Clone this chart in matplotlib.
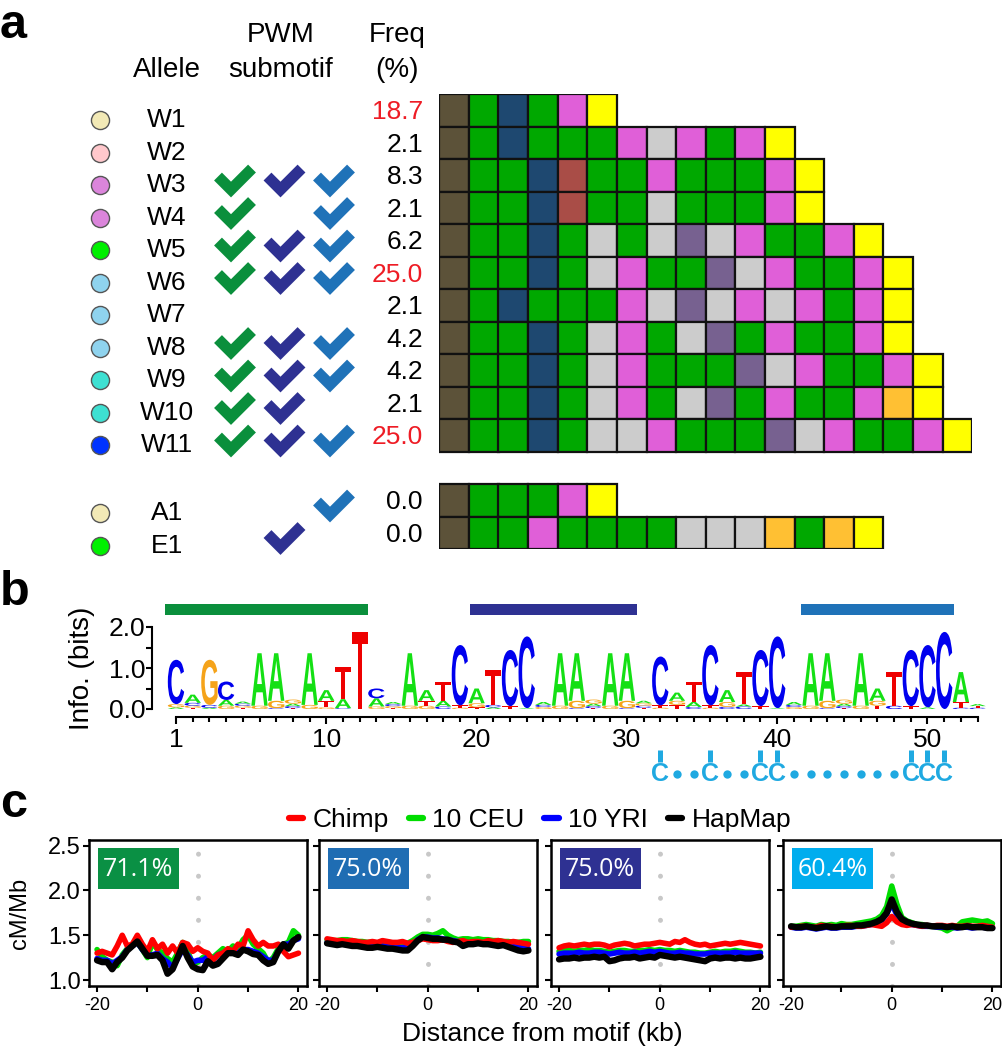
import numpy as np
import matplotlib
matplotlib.use('Agg')
import matplotlib.pyplot as plt
from matplotlib.patches import Rectangle, PathPatch
from matplotlib.textpath import TextPath
from matplotlib.font_manager import FontProperties
from matplotlib.transforms import Affine2D
from matplotlib.lines import Line2D

plt.rcParams['font.family'] = ['Liberation Sans', 'DejaVu Sans']

# ---------------- data ----------------
alleles = ['W1', 'W2', 'W3', 'W4', 'W5', 'W6', 'W7', 'W8', 'W9', 'W10', 'W11', 'A1', 'E1']
allele_rows = [0, 1, 2, 3, 4, 5, 6, 7, 8, 9, 10, 12, 13]
allele_cols = ['#f2e9b6', '#ffc8cc', '#db85db', '#db85db', '#00f000', '#8fd3ee', '#8fd3ee',
               '#8fd3ee', '#3ee0d2', '#3ee0d2', '#0033ff', '#f2e9b6', '#00f000']
freqs = ['18.7', '2.1', '8.3', '2.1', '6.2', '25.0', '2.1', '4.2', '4.2', '2.1', '25.0', '0.0', '0.0']
freq_red = ['18.7', '25.0']
# submotif presence (green, navy, blue)
sub_green = [0, 0, 1, 1, 1, 1, 0, 1, 1, 1, 1, 0, 0]
sub_navy = [0, 0, 1, 0, 1, 1, 0, 1, 1, 1, 1, 0, 1]
sub_blue = [0, 0, 1, 1, 1, 1, 0, 1, 1, 0, 1, 1, 0]
sub_colors = ['#0a8f3c', '#2e3192', '#1f72b8']

repeats = ['BGNGPY', 'BGNGGGPLPGPY', 'BGGNRGGPGGGPY', 'BGGNRGGLGGGPY', 'BGGNGLGLVLPGGPY',
           'BGGNGLPGGVLPGGPY', 'BGNGGGPLVLPLPGPY', 'BGGNGLPGLVGPGGPY', 'BGGNGLPGGGVLPGGPY',
           'BGGNGLPGLVGPGGPOY', 'BGGNGLLPGGGVLPGGPY', 'BGGGPY', 'BGGPGGGGLLLOGOY']
cell_colors = {'B': '#5c5239', 'G': '#00a800', 'N': '#1e4870', 'P': '#e05fd8', 'Y': '#ffff00',
               'L': '#cccccc', 'V': '#776190', 'R': '#a94d47', 'O': '#ffc033'}

# sequence logo: letters from bottom to top with heights (bits)
logo_stacks = [
    [('A', .04), ('G', .08), ('C', 1.08)], [('T', .03), ('G', .05), ('C', .07), ('A', .2)],
    [('A', .03), ('C', .07), ('G', 1.1)], [('G', .08), ('A', .14), ('C', .45)],
    [('T', .03), ('G', .05), ('C', .05), ('A', .05)], [('G', .08), ('A', 1.28)],
    [('C', .02), ('G', .18), ('A', 1.16)], [('T', .02), ('C', .05), ('A', .06), ('G', .1)],
    [('G', .1), ('A', 1.26)], [('G', .04), ('T', .16), ('A', .26)],
    [('C', .02), ('A', .22), ('T', .79)], [('T', 1.88)],
    [('G', .06), ('A', .2), ('C', .24)], [('T', .02), ('G', .05), ('C', .05), ('A', .05)],
    [('G', .08), ('A', 1.28)], [('G', .08), ('T', .12), ('A', .26)],
    [('C', .06), ('A', .14), ('T', .47)], [('G', .03), ('T', .06), ('C', 1.47)],
    [('T', .04), ('G', .1), ('A', .36)], [('A', .04), ('C', .06), ('T', .85)],
    [('T', .07), ('C', 1.37)], [('A', .02), ('C', 1.75)],
    [('G', .05), ('C', .05), ('A', .07)], [('G', .08), ('A', 1.28)],
    [('C', .02), ('G', .18), ('A', 1.16)], [('T', .02), ('C', .05), ('A', .06), ('G', .1)],
    [('G', .08), ('A', 1.28)], [('C', .02), ('G', .18), ('A', 1.16)],
    [('T', .03), ('C', .05), ('G', .06), ('A', .06)], [('G', .03), ('T', .06), ('C', 1.19)],
    [('T', .1), ('G', .1), ('A', .2)], [('C', .05), ('A', .12), ('T', .5)],
    [('G', .03), ('T', .06), ('C', 1.47)], [('C', .05), ('G', .12), ('A', .29)],
    [('C', .06), ('A', .05), ('T', .8)], [('T', .07), ('C', 1.37)],
    [('A', .02), ('C', 1.75)], [('G', .05), ('C', .05), ('A', .07)],
    [('G', .08), ('A', 1.28)], [('C', .02), ('G', .18), ('A', 1.16)],
    [('T', .02), ('C', .05), ('A', .06), ('G', .1)], [('G', .08), ('A', 1.28)],
    [('T', .08), ('G', .12), ('A', .3)], [('C', .08), ('T', .83)],
    [('T', .07), ('C', 1.37)], [('A', .04), ('C', 1.52)],
    [('C', 1.88)], [('C', .03), ('T', .14), ('A', .73)],
    [('C', .03), ('T', .04), ('A', .05)],
]
letter_colors = {'A': '#14e014', 'C': '#0000ee', 'G': '#f5a31a', 'T': '#ee0000'}
logo_tick_pos = [1, 10, 19, 28, 37, 46]
logo_tick_lab = ['1', '10', '20', '30', '40', '50']
submotif_spans = [(0.35, 12.5), (18.6, 28.6), (38.4, 47.6)]
c_positions = [30, 33, 36, 37, 45, 46, 47]
dot_positions = [31, 32, 34, 35, 38, 39, 40, 41, 42, 43, 44]

# recombination rate profiles (cM/Mb), one value per kb from -20 to 20
kb = np.arange(-20, 21)
chimp = [
    [1.30, 1.32, 1.30, 1.28, 1.38, 1.50, 1.38, 1.40, 1.50, 1.40, 1.32, 1.45, 1.35, 1.40, 1.30, 1.38, 1.30, 1.42, 1.40, 1.32, 1.36,
     1.32, 1.30, 1.22, 1.28, 1.30, 1.35, 1.32, 1.40, 1.38, 1.55, 1.45, 1.38, 1.42, 1.38, 1.38, 1.40, 1.32, 1.26, 1.28, 1.30],
    [1.46, 1.45, 1.44, 1.44, 1.43, 1.44, 1.43, 1.42, 1.42, 1.43, 1.42, 1.44, 1.43, 1.42, 1.42, 1.43, 1.41, 1.42, 1.44, 1.46, 1.45,
     1.44, 1.44, 1.45, 1.43, 1.42, 1.43, 1.44, 1.42, 1.43, 1.43, 1.42, 1.44, 1.43, 1.44, 1.43, 1.42, 1.43, 1.42, 1.41, 1.40],
    [1.36, 1.38, 1.39, 1.38, 1.39, 1.40, 1.39, 1.40, 1.40, 1.39, 1.37, 1.39, 1.40, 1.41, 1.40, 1.38, 1.39, 1.40, 1.40, 1.41, 1.42,
     1.41, 1.40, 1.43, 1.42, 1.45, 1.42, 1.40, 1.39, 1.40, 1.38, 1.39, 1.40, 1.41, 1.40, 1.41, 1.42, 1.41, 1.40, 1.39, 1.38],
    [1.59, 1.59, 1.60, 1.60, 1.59, 1.59, 1.61, 1.60, 1.60, 1.59, 1.60, 1.61, 1.61, 1.60, 1.60, 1.61, 1.62, 1.61, 1.60, 1.64, 1.71,
     1.65, 1.62, 1.61, 1.62, 1.61, 1.60, 1.61, 1.60, 1.61, 1.61, 1.60, 1.61, 1.60, 1.60, 1.61, 1.60, 1.60, 1.61, 1.60, 1.59],
]
ceu = [
    [1.34, 1.26, 1.22, 1.20, 1.16, 1.28, 1.35, 1.40, 1.42, 1.34, 1.25, 1.42, 1.34, 1.30, 1.24, 1.20, 1.30, 1.42, 1.32, 1.18, 1.20,
     1.25, 1.28, 1.25, 1.30, 1.35, 1.32, 1.38, 1.35, 1.45, 1.50, 1.40, 1.35, 1.30, 1.20, 1.25, 1.35, 1.40, 1.42, 1.55, 1.50],
    [1.45, 1.44, 1.44, 1.45, 1.45, 1.44, 1.43, 1.43, 1.42, 1.42, 1.41, 1.42, 1.40, 1.40, 1.39, 1.40, 1.41, 1.44, 1.48, 1.51, 1.51,
     1.50, 1.52, 1.55, 1.50, 1.47, 1.45, 1.46, 1.46, 1.45, 1.46, 1.45, 1.45, 1.44, 1.44, 1.43, 1.43, 1.42, 1.42, 1.43, 1.43],
    [1.32, 1.33, 1.33, 1.32, 1.33, 1.33, 1.34, 1.33, 1.33, 1.32, 1.31, 1.32, 1.33, 1.33, 1.32, 1.32, 1.33, 1.33, 1.34, 1.33, 1.34,
     1.33, 1.33, 1.32, 1.33, 1.32, 1.31, 1.31, 1.30, 1.30, 1.31, 1.32, 1.31, 1.32, 1.32, 1.33, 1.32, 1.31, 1.31, 1.30, 1.31],
    [1.60, 1.60, 1.61, 1.62, 1.61, 1.60, 1.62, 1.61, 1.62, 1.61, 1.63, 1.62, 1.62, 1.63, 1.64, 1.65, 1.66, 1.68, 1.72, 1.82, 2.05,
     1.85, 1.70, 1.66, 1.64, 1.62, 1.62, 1.60, 1.60, 1.59, 1.58, 1.55, 1.58, 1.60, 1.65, 1.66, 1.67, 1.66, 1.65, 1.66, 1.63],
]
yri = [
    [1.24, 1.22, 1.22, 1.18, 1.22, 1.26, 1.34, 1.38, 1.42, 1.34, 1.28, 1.28, 1.30, 1.24, 1.20, 1.14, 1.24, 1.34, 1.28, 1.20, 1.22,
     1.22, 1.26, 1.22, 1.28, 1.30, 1.32, 1.32, 1.30, 1.34, 1.34, 1.32, 1.30, 1.26, 1.22, 1.22, 1.32, 1.40, 1.40, 1.44, 1.46],
    [1.42, 1.41, 1.40, 1.41, 1.39, 1.40, 1.39, 1.38, 1.38, 1.38, 1.39, 1.38, 1.37, 1.37, 1.36, 1.36, 1.37, 1.40, 1.45, 1.48, 1.48,
     1.47, 1.47, 1.46, 1.45, 1.44, 1.43, 1.41, 1.41, 1.42, 1.42, 1.41, 1.41, 1.40, 1.40, 1.40, 1.39, 1.38, 1.37, 1.36, 1.35],
    [1.29, 1.30, 1.30, 1.30, 1.31, 1.30, 1.30, 1.31, 1.31, 1.30, 1.29, 1.30, 1.31, 1.30, 1.30, 1.31, 1.30, 1.31, 1.32, 1.31, 1.32,
     1.31, 1.30, 1.30, 1.31, 1.30, 1.30, 1.29, 1.29, 1.29, 1.30, 1.30, 1.30, 1.30, 1.30, 1.31, 1.30, 1.30, 1.30, 1.30, 1.30],
    [1.59, 1.58, 1.58, 1.59, 1.58, 1.57, 1.58, 1.59, 1.58, 1.58, 1.59, 1.59, 1.59, 1.60, 1.60, 1.61, 1.62, 1.64, 1.67, 1.74, 1.85,
     1.73, 1.66, 1.63, 1.62, 1.61, 1.60, 1.60, 1.60, 1.59, 1.59, 1.59, 1.59, 1.58, 1.59, 1.59, 1.58, 1.59, 1.59, 1.58, 1.58],
]
hapmap = [
    [1.22, 1.20, 1.20, 1.12, 1.20, 1.25, 1.33, 1.38, 1.43, 1.35, 1.27, 1.27, 1.28, 1.22, 1.07, 1.12, 1.25, 1.38, 1.25, 1.15, 1.12,
     1.11, 1.21, 1.16, 1.18, 1.24, 1.30, 1.30, 1.28, 1.34, 1.32, 1.29, 1.28, 1.22, 1.18, 1.20, 1.32, 1.40, 1.35, 1.44, 1.48],
    [1.41, 1.40, 1.39, 1.40, 1.39, 1.38, 1.38, 1.37, 1.36, 1.36, 1.37, 1.36, 1.35, 1.35, 1.34, 1.33, 1.33, 1.38, 1.44, 1.48, 1.47,
     1.46, 1.46, 1.45, 1.45, 1.43, 1.42, 1.38, 1.40, 1.40, 1.41, 1.40, 1.40, 1.39, 1.38, 1.39, 1.37, 1.35, 1.33, 1.32, 1.33],
    [1.23, 1.24, 1.24, 1.25, 1.24, 1.25, 1.25, 1.26, 1.25, 1.26, 1.21, 1.22, 1.24, 1.25, 1.25, 1.26, 1.24, 1.25, 1.26, 1.25, 1.28,
     1.27, 1.26, 1.25, 1.26, 1.25, 1.24, 1.23, 1.22, 1.21, 1.24, 1.25, 1.24, 1.25, 1.25, 1.24, 1.25, 1.24, 1.24, 1.25, 1.26],
    [1.60, 1.59, 1.59, 1.60, 1.59, 1.58, 1.59, 1.60, 1.59, 1.59, 1.60, 1.60, 1.60, 1.61, 1.61, 1.62, 1.63, 1.65, 1.68, 1.75, 1.90,
     1.76, 1.68, 1.65, 1.63, 1.62, 1.61, 1.61, 1.60, 1.60, 1.60, 1.59, 1.60, 1.59, 1.59, 1.60, 1.59, 1.59, 1.59, 1.58, 1.58],
]
pct_labels = ['71.1%', '75.0%', '75.0%', '60.4%']
pct_colors = ['#0a9044', '#1f6db3', '#2e3192', '#00adee']

# ---------------- figure ----------------
W, H = 1003, 1050
fig = plt.figure(figsize=(W / 100, H / 100), dpi=100)


def rect(x0, y0, x1, y1):
    return [x0 / W, 1 - y1 / H, (x1 - x0) / W, (y1 - y0) / H]


# panel a: text columns drawn in pixel space
ax = fig.add_axes([0, 0, 1, 1])
ax.set_xlim(0, W)
ax.set_ylim(H, 0)
ax.axis('off')

row_top, row_h = 94.3, 32.5
cell_w = 29.6
ax.text(0, 38, 'a', fontsize=35, fontweight='bold', va='baseline')
ax.text(0, 605, 'b', fontsize=35, fontweight='bold', va='baseline')
ax.text(0, 817, 'c', fontsize=35, fontweight='bold', va='baseline')
ax.text(167, 70, 'Allele', fontsize=20, ha='center', va='center')
ax.text(281, 35, 'PWM', fontsize=20, ha='center', va='center')
ax.text(281, 70, 'submotif', fontsize=20, ha='center', va='center')
ax.text(397, 35, 'Freq', fontsize=20, ha='center', va='center')
ax.text(397, 70, '(%)', fontsize=20, ha='center', va='center')

for i, name in enumerate(alleles):
    yc = row_top + (allele_rows[i] + 0.5) * row_h
    yl = yc + (9.5 if allele_rows[i] <= 10 else 12.5)
    ax.scatter([100], [yl], s=170, color=allele_cols[i], edgecolors='#555555', linewidths=1, zorder=3)
    ax.text(167, yl, name, fontsize=19, ha='center', va='center')
    ax.text(423, yc + 1.5, freqs[i], fontsize=19, ha='right', va='center',
            color='#ee1c25' if freqs[i] in freq_red else 'black')
    for j, flags in enumerate([sub_green, sub_navy, sub_blue]):
        if flags[i]:
            xc = 234 + j * 49.5
            ax.plot(xc + np.array([-16, -3, 18]), yc + 4 + np.array([-3, 10, -11]),
                    color=sub_colors[j], lw=8, solid_joinstyle='miter', solid_capstyle='butt')

# repeat structure grid
ax_g = fig.add_axes(rect(439.3, row_top, 439.3 + 18 * cell_w, row_top + 14 * row_h))
ax_g.set_xlim(0, 18)
ax_g.set_ylim(14, 0)
ax_g.axis('off')
for r, seq in zip(allele_rows, repeats):
    for c, ch in enumerate(seq):
        ax_g.add_patch(Rectangle((c, r), 1, 1, fc=cell_colors[ch], ec='#111111', lw=1.6))

# panel b: sequence logo
ax_b = fig.add_axes(rect(152, 598, 990, 790))
ax_b.set_xlim(1 + (152 - 176) / 16.7, 1 + (990 - 176) / 16.7)
ax_b.set_ylim((709 - 790) / 41, (709 - 598) / 41)
fp = FontProperties(family='Liberation Sans', weight='bold')
glyphs = {ch: TextPath((0, 0), ch, size=1, prop=fp) for ch in 'ACGT'}


def draw_letter(ch, x, y0, h, w=0.98):
    tp = glyphs[ch]
    bb = tp.get_extents()
    tr = Affine2D().translate(-bb.x0, -bb.y0).scale(w / bb.width, h / bb.height).translate(x - w / 2, y0)
    ax_b.add_patch(PathPatch(tr.transform_path(tp), fc=letter_colors[ch], ec='none', lw=0))


for p, stack in enumerate(logo_stacks, start=1):
    y0 = 0
    for ch, h in stack:
        draw_letter(ch, p, y0, h)
        y0 += h

for (s0, s1), col in zip(submotif_spans, sub_colors):
    ax_b.add_patch(Rectangle((s0, 2.29), s1 - s0, 0.27, fc=col, ec='none'))

cyan = '#1fa9e1'
for p in c_positions:
    ax_b.plot([p, p], [-1.0, -1.29], color=cyan, lw=3.6, solid_capstyle='butt')
    ax_b.text(p, -1.58, 'C', color=cyan, fontsize=18, fontweight='bold', ha='center', va='center')
ax_b.plot(dot_positions, [-1.58] * len(dot_positions), 'o', color=cyan, ms=6, mew=0)

for s in ['top', 'right']:
    ax_b.spines[s].set_visible(False)
ax_b.spines['left'].set_bounds(0, 2)
ax_b.spines['bottom'].set_position(('data', -0.195))
ax_b.spines['bottom'].set_bounds(1, len(logo_stacks))
for s in ['left', 'bottom']:
    ax_b.spines[s].set_linewidth(1.5)
ax_b.set_yticks([0, 1, 2], ['0.0', '1.0', '2.0'])
ax_b.set_yticks([0.5, 1.5], minor=True)
ax_b.set_xticks(logo_tick_pos, logo_tick_lab)
ax_b.set_xticks(range(1, len(logo_stacks) + 1), minor=True)
ax_b.tick_params(axis='both', which='both', direction='out', width=1.5, labelsize=19)
ax_b.tick_params(axis='y', which='major', length=4, pad=1)
ax_b.tick_params(axis='y', which='minor', length=4)
ax_b.tick_params(axis='x', which='major', length=5, pad=3)
ax_b.tick_params(axis='x', which='minor', length=3.5)
fig.text(82 / W, 1 - 668 / H, 'Info. (bits)', rotation=90, fontsize=20, ha='center', va='center')

# panel c: recombination profiles
c_lefts = [89, 319, 551, 783]
for i, left in enumerate(c_lefts):
    axc = fig.add_axes(rect(left, 840, left + 218, 986))
    axc.set_xlim(-21.6, 21.7)
    axc.set_ylim(0.933, 2.564)
    axc.axvline(0, color='#c8c8c8', lw=3.6, ls=(0, (0.01, 4.4)), dash_capstyle='round', zorder=1)
    for series, col, lw in [(ceu, '#00dd00', 4), (yri, '#0000ff', 4), (chimp, '#ff0000', 4), (hapmap, 'black', 4.6)]:
        axc.plot(kb, series[i], color=col, lw=lw, solid_capstyle='round', solid_joinstyle='round', zorder=2)
    axc.add_patch(Rectangle((0.04, 0.662), 0.373, 0.281, transform=axc.transAxes, fc=pct_colors[i], ec='none'))
    axc.text(0.2265, 0.8, pct_labels[i], transform=axc.transAxes, color='white', fontsize=18,
             family=['Open Sans', 'DejaVu Sans'], ha='center', va='center')
    axc.set_xticks([-20, -10, 0, 10, 20], ['-20', '', '0', '', '20'])
    axc.set_yticks([1.0, 1.5, 2.0, 2.5], ['1.0', '1.5', '2.0', '2.5'])
    axc.tick_params(axis='x', direction='out', length=4, width=1.5, pad=4, labelsize=13)
    axc.tick_params(axis='y', direction='out', length=4, width=1.5, pad=2, labelsize=17,
                    labelleft=(i == 0))
    for s in axc.spines.values():
        s.set_linewidth(1.8)

handles = [Line2D([], [], color=c, lw=4.5, solid_capstyle='round') for c in ['#ff0000', '#00dd00', '#0000ff', 'black']]
fig.legend(handles, ['Chimp', '10 CEU', '10 YRI', 'HapMap'], loc='center', bbox_to_anchor=(540 / W, 1 - 820 / H),
           ncol=4, frameon=False, fontsize=19, handlelength=0.55, handletextpad=0.35, columnspacing=0.75,
           borderpad=0, borderaxespad=0)
fig.text(542 / W, 1 - 1034 / H, 'Distance from motif (kb)', fontsize=19, ha='center', va='center')
fig.text(20 / W, 1 - 913 / H, 'cM/Mb', rotation=90, fontsize=17, ha='center', va='center')

fig.savefig('out.png', dpi=100)
